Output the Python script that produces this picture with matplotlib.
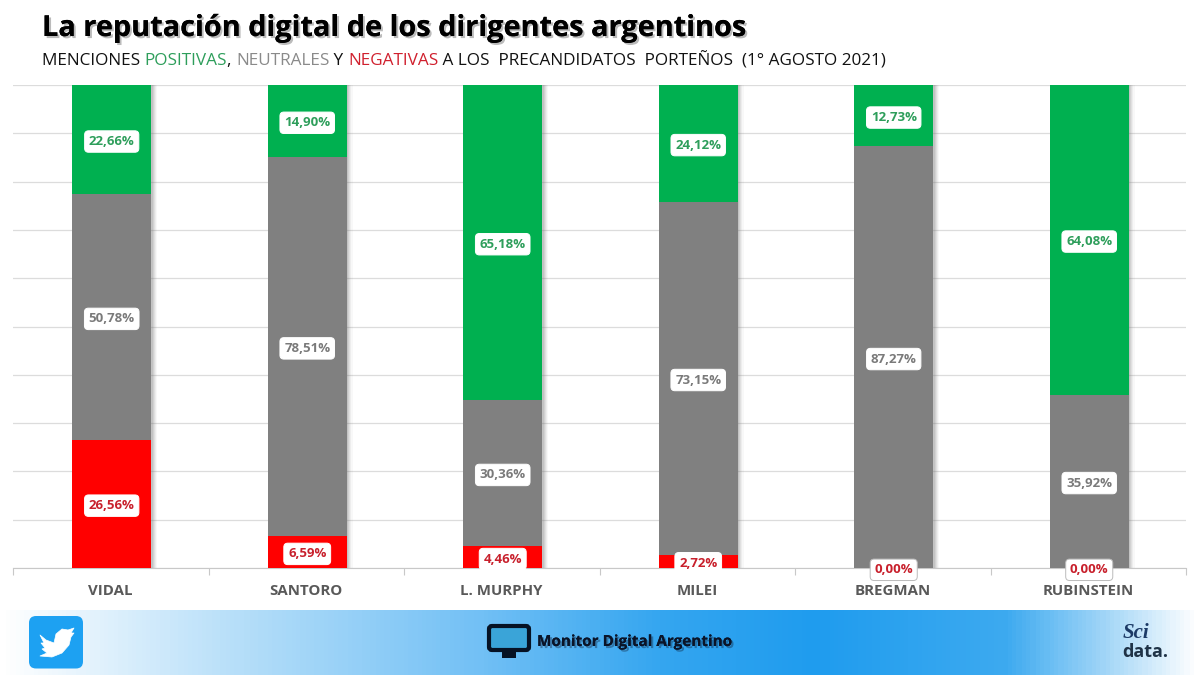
import numpy as np
import matplotlib
matplotlib.use('Agg')
import matplotlib.pyplot as plt
import matplotlib.patheffects as pe
from matplotlib.colors import LinearSegmentedColormap
from matplotlib.patches import FancyBboxPatch, Polygon

candidates = ['VIDAL', 'SANTORO', 'L. MURPHY', 'MILEI', 'BREGMAN', 'RUBINSTEIN']
negative = [26.56, 6.59, 4.46, 2.72, 0.00, 0.00]
neutral = [50.78, 78.51, 30.36, 73.15, 87.27, 35.92]
positive = [22.66, 14.90, 65.18, 24.12, 12.73, 64.08]

GREEN = '#00B050'
GREY = '#808080'
RED = '#FF0000'
W, H = 1200, 675

plt.rcParams['font.family'] = ['Open Sans', 'DejaVu Sans']

fig = plt.figure(figsize=(12, 6.75), dpi=100, facecolor='w')

# background layer in pixel coordinates
bg = fig.add_axes([0, 0, 1, 1])
bg.set_xlim(0, W)
bg.set_ylim(H, 0)
bg.axis('off')

# banner gradient
cmap = LinearSegmentedColormap.from_list('banner', [
    (0.0, '#ffffff'), (0.03, '#f4fafe'), (0.2, '#b5def9'), (0.4, '#72c0f5'),
    (0.55, '#35a6f0'), (0.68, '#1f9cee'), (0.84, '#3daaf0'),
    (0.92, '#9ed4f7'), (1.0, '#ffffff')])
grad = np.linspace(0, 1, 600).reshape(1, -1)
bg.imshow(grad, cmap=cmap, extent=[0, W, 675, 610], aspect='auto', zorder=1)
bg.set_xlim(0, W)
bg.set_ylim(H, 0)

# title
bg.text(42, 28.5, 'La reputación digital de los dirigentes argentinos', fontsize=20.8,
        fontweight='bold', color='k', va='center', ha='left',
        path_effects=[pe.withSimplePatchShadow(offset=(1.5, -1.5), shadow_rgbFace='#555555', alpha=0.4),
                      pe.Normal()])

# subtitle, one piece per colour
sub_parts = [('MENCIONES ', '#111111'), ('POSITIVAS', '#2E9E5B'), (', ', '#111111'),
             ('NEUTRALES', '#8a8a8a'), (' Y ', '#111111'), ('NEGATIVAS', '#D0202E'),
             (' A LOS  PRECANDIDATOS  PORTEÑOS  (1° AGOSTO 2021)', '#111111')]
renderer = fig.canvas.get_renderer()
xpos = 42
for part, col in sub_parts:
    t = bg.text(xpos, 61, part.replace(' ', '\u00a0'), fontsize=12.33, color=col,
                va='center', ha='left')
    xpos = t.get_window_extent(renderer).x1

# chart
ax = fig.add_axes([13 / W, 1 - 568 / H, (1186 - 13) / W, (568 - 85) / H])
ax.patch.set_alpha(0)
ax.set_xlim(-0.5, 5.5)
ax.set_ylim(0, 100)
ax.set_yticks(np.arange(0, 101, 10))
ax.set_yticklabels([])
ax.tick_params(axis='y', length=0)
ax.yaxis.grid(True, color='#dcdcdc', lw=0.9)
ax.set_axisbelow(True)
for s in ['top', 'left', 'right']:
    ax.spines[s].set_visible(False)
ax.spines['bottom'].set_color('#c8c8c8')

ax.set_xticks(np.arange(-0.5, 5.6, 1))
ax.set_xticklabels([])
ax.tick_params(axis='x', length=5, color='#c8c8c8', direction='out')

x = np.arange(len(candidates)) + 0.005
bw = 79 / 195.5
neg = np.array(negative)
neu = np.array(neutral)
pos = np.array(positive)

# soft shadow to the right of the bars
for off, al in zip([0.030, 0.024, 0.018, 0.012, 0.007], [0.05, 0.08, 0.10, 0.13, 0.16]):
    ax.bar(x + off, neg + neu + pos, bw, color='#777777', alpha=al, lw=0, zorder=2)

ax.bar(x, neg, bw, color=RED, zorder=3)
ax.bar(x, neu, bw, bottom=neg, color=GREY, zorder=3)
ax.bar(x, pos, bw, bottom=neg + neu, color=GREEN, zorder=3)


def fmt(v):
    return f'{v:.2f}'.replace('.', ',') + '%'


def label(xc, yc, v, col, edge):
    ax.annotate(fmt(v), (xc, yc), xytext=(0, -1.3), textcoords='offset points',
                ha='center', va='center', fontsize=9.5, fontweight='bold',
                color=col, zorder=6, annotation_clip=False,
                bbox=dict(boxstyle='round,pad=0.32,rounding_size=0.3', fc='white', ec=edge, lw=0.7))


for i in range(len(candidates)):
    yneg = neg[i] / 2 if neg[i] > 1 else 0
    label(x[i], yneg, neg[i], '#C8202C', '#bbbbbb' if neg[i] < 1 else 'white')
    label(x[i], neg[i] + neu[i] / 2, neu[i], '#7a7a7a', 'white')
    label(x[i], neg[i] + neu[i] + pos[i] / 2, pos[i], '#2E9E5B', 'white')
    ax.text(i, -4.85, candidates[i], ha='center', va='center', fontsize=10.8, fontweight='bold',
            color='#595959', clip_on=False)

# front layer: logos
fg = fig.add_axes([0, 0, 1, 1])
fg.patch.set_alpha(0)
fg.set_xlim(0, W)
fg.set_ylim(H, 0)
fg.axis('off')

# twitter logo
fg.add_patch(FancyBboxPatch((33, 620), 46, 44.5, boxstyle='round,pad=4,rounding_size=7',
                            fc='#1DA1F2', ec='none', zorder=3))
bird = [(40, 635), (46, 640), (54, 643), (56, 634), (62, 629), (68, 630), (74, 628), (71, 633),
        (74, 633), (71, 637), (69, 645), (62, 653), (52, 657), (40, 656), (47, 653), (42, 649),
        (45, 648), (41, 643), (44, 643)]
fg.add_patch(Polygon(bird, closed=True, fc='white', ec='white', lw=0.5, joinstyle='round', zorder=4))

# monitor logo
fg.add_patch(FancyBboxPatch((489, 626), 40, 24, boxstyle='round,pad=0,rounding_size=3',
                            fc='#3aa4d8', ec='#061224', lw=3, zorder=3))
fg.add_patch(Polygon([(502, 651), (516, 651), (516, 658), (502, 658)], closed=True,
                     fc='#061224', ec='none', zorder=3))
fg.text(537, 642, 'Monitor Digital Argentino', fontsize=11, fontweight='bold', color='#0a1428',
        va='center', ha='left', zorder=4,
        path_effects=[pe.withSimplePatchShadow(offset=(1.5, -1.5), shadow_rgbFace='#0a1428', alpha=0.35),
                      pe.Normal()])

# scidata logo
fg.text(1123, 633, 'Sci', fontsize=15, family=['Liberation Serif', 'DejaVu Serif'], style='italic',
        fontweight='bold', color='#1c3a66', va='center', ha='left', zorder=4)
fg.text(1122, 652, 'data.', fontsize=13, fontweight='bold', color='#1f3347', va='center', ha='left', zorder=4)

fig.savefig('out.png', dpi=100, facecolor='w')
